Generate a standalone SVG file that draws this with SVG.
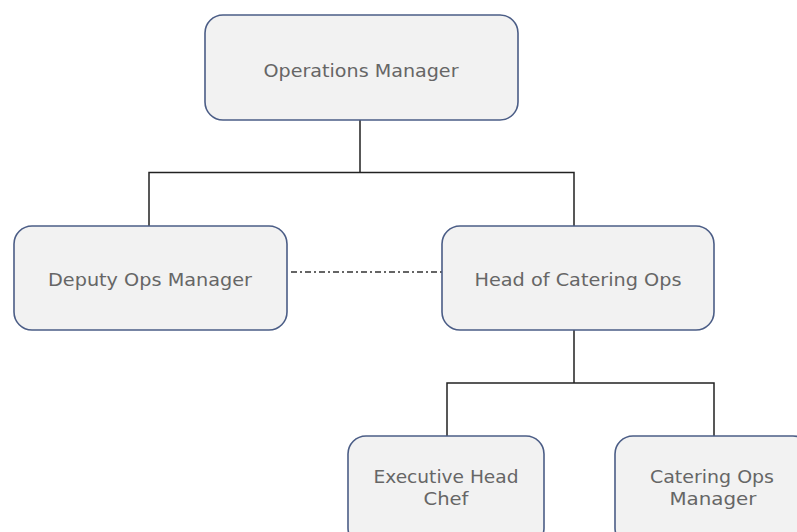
<svg xmlns="http://www.w3.org/2000/svg" width="797" height="532" viewBox="0 0 797 532">
<style>
.box{fill:#f2f2f2;stroke:#4b5d86;stroke-width:1.6}
.t{font-family:"DejaVu Sans","Liberation Sans",sans-serif;font-size:17px;fill:#666;text-anchor:middle}
.c{fill:none;stroke:#222;stroke-width:1.5}
.d{fill:none;stroke:#333;stroke-width:1.5;stroke-dasharray:6 3 2 3}
</style>
<rect width="797" height="532" fill="#fff"/>
<g id="connectors">
<path class="c" d="M360 120V172.5M149 226V172.5H574V226"/>
<path class="c" d="M574 330V383M447 436V383H714V436"/>
<path class="d" d="M291 272H442"/>
</g>
<g id="ops-manager">
<rect class="box" x="205" y="15" width="313" height="105" rx="18"/>
<text class="t" x="361" y="77" textLength="195" lengthAdjust="spacingAndGlyphs">Operations Manager</text>
</g>
<g id="deputy-ops-manager">
<rect class="box" x="14" y="226" width="273" height="104" rx="18"/>
<text class="t" x="150" y="286" textLength="204" lengthAdjust="spacingAndGlyphs">Deputy Ops Manager</text>
</g>
<g id="head-of-catering-ops">
<rect class="box" x="442" y="226" width="272" height="104" rx="18"/>
<text class="t" x="578" y="286" textLength="207" lengthAdjust="spacingAndGlyphs">Head of Catering Ops</text>
</g>
<g id="executive-head-chef">
<rect class="box" x="348" y="436" width="196" height="110" rx="18"/>
<text class="t" x="446" y="483" textLength="145" lengthAdjust="spacingAndGlyphs">Executive Head</text>
<text class="t" x="446" y="505" textLength="45" lengthAdjust="spacingAndGlyphs">Chef</text>
</g>
<g id="catering-ops-manager">
<rect class="box" x="615" y="436" width="196" height="110" rx="18"/>
<text class="t" x="712" y="483" textLength="124" lengthAdjust="spacingAndGlyphs">Catering Ops</text>
<text class="t" x="713" y="505" textLength="87" lengthAdjust="spacingAndGlyphs">Manager</text>
</g>
</svg>
